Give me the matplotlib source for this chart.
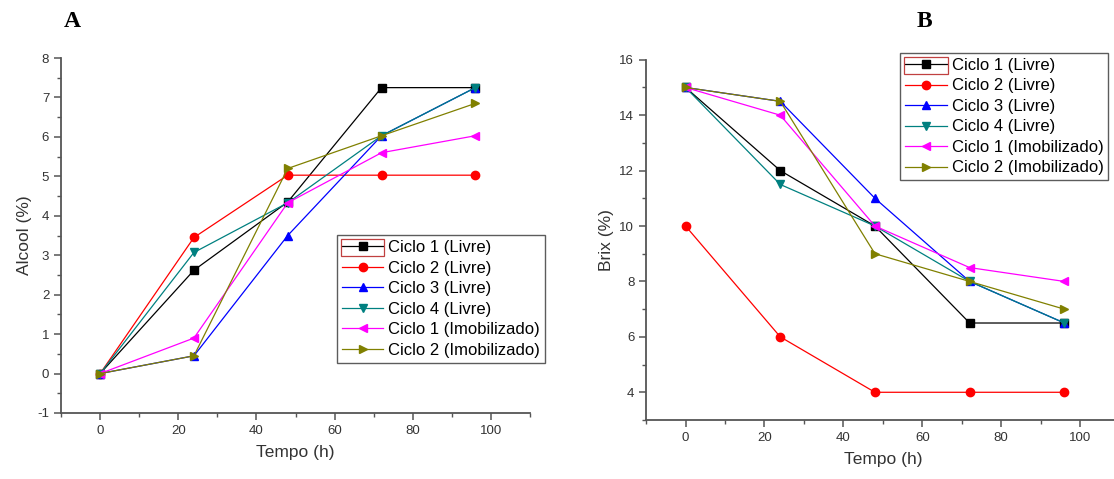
import numpy as np
import matplotlib
matplotlib.use("Agg")
import matplotlib.pyplot as plt
from matplotlib.ticker import MultipleLocator
from matplotlib.patches import Rectangle

plt.rcParams['font.family'] = ['Liberation Sans', 'DejaVu Sans']
plt.rcParams['axes.unicode_minus'] = False

tempo = [0, 24, 48, 72, 96]
labels = ["Ciclo 1 (Livre)", "Ciclo 2 (Livre)", "Ciclo 3 (Livre)",
          "Ciclo 4 (Livre)", "Ciclo 1 (Imobilizado)", "Ciclo 2 (Imobilizado)"]

# alcool (%)
alcool_c1 = [0, 2.62, 4.35, 7.25, 7.25]
alcool_c2 = [0, 3.45, 5.03, 5.03, 5.03]
alcool_c3 = [0, 0.45, 3.50, 6.03, 7.25]
alcool_c4 = [0, 3.07, 4.33, 6.03, 7.25]
alcool_i1 = [0, 0.90, 4.33, 5.60, 6.03]
alcool_i2 = [0, 0.45, 5.20, 6.03, 6.85]

# brix (%)
brix_c1 = [15, 12, 10, 6.5, 6.5]
brix_c2 = [10, 6, 4, 4, 4]
brix_c3 = [15, 14.5, 11, 8, 6.5]
brix_c4 = [15, 11.5, 10, 8, 6.5]
brix_i1 = [15, 14, 10, 8.5, 8]
brix_i2 = [15, 14.5, 9, 8, 7]

colors = ['#000000', '#FF0000', '#0000FF', '#008080', '#FF00FF', '#808000']
markers = ['s', 'o', '^', 'v', '<', '>']
axcol = '#555555'
LEG_FS = 12
HL, HTP = 2.5, 0.3

fig = plt.figure(figsize=(11.14, 4.79), dpi=100)
axA = fig.add_axes([0.0548, 0.1378, 0.421, 0.741])
axB = fig.add_axes([0.580, 0.1232, 0.425, 0.752])


def draw(ax, series, anchor):
    for i, ys in enumerate(series):
        ax.plot(tempo, ys, color=colors[i], lw=0.9, marker=markers[i],
                markersize=6, label=labels[i])
    ax.spines['top'].set_visible(False)
    ax.spines['right'].set_visible(False)
    for s in ['left', 'bottom']:
        ax.spines[s].set_color(axcol)
        ax.spines[s].set_linewidth(1.3)
    ax.xaxis.set_major_locator(MultipleLocator(20))
    ax.xaxis.set_minor_locator(MultipleLocator(10))
    ax.set_xlim(-10, 110)
    ax.tick_params(which='major', direction='out', length=5, width=1.1,
                   color=axcol, labelcolor='#333333', labelsize=9.5)
    ax.tick_params(which='minor', direction='out', length=3, width=1.0,
                   color=axcol)
    ax.set_xlabel("Tempo (h)", fontsize=12.5, color='#333333', labelpad=6)
    leg = ax.legend(fontsize=LEG_FS, frameon=True, fancybox=False,
                    loc='upper left', bbox_to_anchor=anchor,
                    handlelength=HL, handletextpad=HTP, borderpad=0.3,
                    labelspacing=0.33, borderaxespad=0.0)
    leg.get_frame().set_edgecolor('#333333')
    leg.get_frame().set_linewidth(1.0)
    return leg


legA = draw(axA, [alcool_c1, alcool_c2, alcool_c3, alcool_c4, alcool_i1, alcool_i2],
            (0.588, 0.501))
axA.set_ylim(-1, 8)
axA.yaxis.set_major_locator(MultipleLocator(1))
axA.yaxis.set_minor_locator(MultipleLocator(0.5))
axA.set_ylabel("Alcool (%)", fontsize=12.5, color='#333333')

legB = draw(axB, [brix_c1, brix_c2, brix_c3, brix_c4, brix_i1, brix_i2],
            (0.536, 1.019))
axB.set_ylim(3, 16)
axB.yaxis.set_major_locator(MultipleLocator(2))
axB.yaxis.set_minor_locator(MultipleLocator(1))
axB.set_ylabel("Brix (%)", fontsize=12.5, color='#333333')

fig.text(0.065, 0.955, "A", fontsize=17, fontweight='bold',
         family='Liberation Serif', ha='center', va='center')
fig.text(0.830, 0.955, "B", fontsize=17, fontweight='bold',
         family='Liberation Serif', ha='center', va='center')

# red selection box around the first legend handle (as in the original)
fig.canvas.draw()
renderer = fig.canvas.get_renderer()
fs_px = LEG_FS * fig.dpi / 72.0
inv = fig.transFigure.inverted()
for leg in (legA, legB):
    tb = leg.get_texts()[0].get_window_extent(renderer)
    x1 = tb.x0 - HTP * fs_px + 1
    x0 = x1 - HL * fs_px - 2
    (fx0, fy0) = inv.transform((x0, tb.y0 - 1))
    (fx1, fy1) = inv.transform((x1, tb.y1 + 1))
    fig.add_artist(Rectangle((fx0, fy0), fx1 - fx0, fy1 - fy0, fill=False,
                             edgecolor='#C04040', lw=0.9,
                             transform=fig.transFigure))

fig.savefig("out.png", dpi=100)
